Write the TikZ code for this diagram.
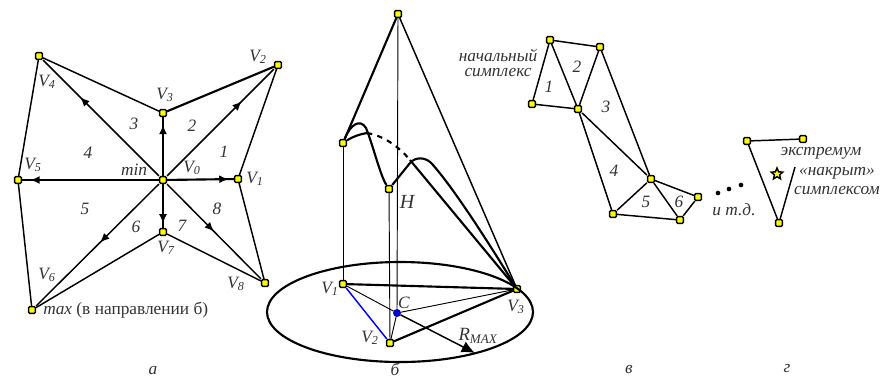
\documentclass[tikz,border=0pt]{standalone}
\usepackage{fontspec}
\setmainfont{Liberation Serif}
\usepackage{xcolor}
\usetikzlibrary{arrows.meta,decorations.markings,shapes.geometric}
\definecolor{vyellow}{RGB}{255,255,0}
\newcommand{\Vn}[1]{\textit{V\textsubscript{#1}}}
\begin{document}
\begin{tikzpicture}[x=0.75pt,y=-0.75pt,
 vert/.style={draw,fill=vyellow,rounded corners=0.8pt,line width=1.1pt,minimum size=5pt,inner sep=0pt},
 lab/.style={font=\fontsize{13}{14}\selectfont\itshape,text=black!80,inner sep=0pt},
 edge/.style={line width=1.1pt},
 fat/.style={line width=1.6pt},
 thinline/.style={line width=0.7pt},
 midarr/.style={postaction={decorate},decoration={markings,mark=at position #1 with {\arrow{Latex[length=7pt,width=6pt]}}}}]
 \useasboundingbox (0,0) rectangle (881,380);
 % a
 \node[vert] (Vc) at (163,180) {};
 \node[vert] (Va1) at (238,179) {};
 \node[vert] (Va2) at (278,65) {};
 \node[vert] (Va3) at (163,113) {};
 \node[vert] (Va4) at (39,56) {};
 \node[vert] (Va5) at (18,180) {};
 \node[vert] (Va6) at (32,310) {};
 \node[vert] (Va7) at (163,232) {};
 \node[vert] (Va8) at (265,283) {};
 \draw[fat,midarr=.92] (Vc) -- (Va1);
 \draw[edge,midarr=.7] (Vc) -- (Va2);
 \draw[fat,midarr=.87] (Vc) -- (Va3);
 \draw[edge,midarr=.68] (Vc) -- (Va4);
 \draw[fat,midarr=.94] (Vc) -- (Va5);
 \draw[edge,midarr=.48] (Vc) -- (Va6);
 \draw[fat,midarr=.9] (Vc) -- (Va7);
 \draw[edge,midarr=.5] (Vc) -- (Va8);
 \draw[edge] (Va1) -- (Va2); \draw[fat] (Va2) -- (Va3); \draw[edge] (Va3) -- (Va4); \draw[edge] (Va4) -- (Va5);
 \draw[edge] (Va5) -- (Va6); \draw[edge] (Va6) -- (Va7); \draw[edge] (Va7) -- (Va8); \draw[edge] (Va8) -- (Va1);
 \node[lab] (la1) at (255,179) {\Vn{1}};
 \node[lab] (la2) at (258,57) {\Vn{2}};
 \node[lab] (la3) at (165,95) {\Vn{3}};
 \node[lab] (la4) at (47,82) {\Vn{4}};
 \node[lab] (la5) at (33,165) {\Vn{5}};
 \node[lab] (la6) at (47,275) {\Vn{6}};
 \node[lab] (la7) at (166,248) {\Vn{7}};
 \node[lab] (la8) at (236,284) {\Vn{8}};
 \node[lab] (la0) at (192,168) {\Vn{0}};
 \node[lab] (lmin) at (134,170) {min};
 \node[lab,anchor=west] (lmax) at (43,310) {max \textup{(в направлении б)}};
 \node[lab] (n1) at (224,152) {1};
 \node[lab] (n2) at (192,126) {2};
 \node[lab] (n3) at (134,124) {3};
 \node[lab] (n4) at (88,153) {4};
 \node[lab] (n5) at (85,209) {5};
 \node[lab] (n6) at (136,227) {6};
 \node[lab] (n7) at (182,226) {7};
 \node[lab] (n8) at (217,209) {8};
 \node[lab] (capa) at (153,370) {а};
 % b
 \node[vert] (top) at (398,14) {};
 \node[vert] (ha) at (343,143) {};
 \node[vert] (hb) at (389,189) {};
 \node[vert] (Vb1) at (343,284) {};
 \node[vert] (Vb2) at (390,343) {};
 \node[vert] (Vb3) at (517,289) {};
 \node[draw=blue!70!black,fill=blue!80!black,circle,minimum size=5.5pt,inner sep=0pt] (C) at (397,313) {};
 \coordinate (Rend) at (475,353);
 \coordinate (hid1) at (367,133);
 \coordinate (hid2) at (410,160);
 \draw[fat] (400,312) ellipse (133 and 50);
 \draw[thinline] (ha) -- (Vb1); \draw[thinline] (hb) -- (Vb2); \draw[thinline] (top) -- (C);
 \draw[fat] (top) -- (ha); \draw[edge] (top) -- (Vb3);
 \draw[fat] (ha) .. controls (350,125) and (360,118) .. (366,128) .. controls (373,145) and (380,175) .. (hb);
 \draw[fat] (hb) -- (410,163) .. controls (415,157) and (426,156) .. (433,165) .. controls (455,190) and (490,245) .. (Vb3);
 \draw[fat] (ha) .. controls (352,137) and (360,134) .. (hid1);
 \draw[fat,dash pattern=on 4pt off 4pt] (hid1) .. controls (385,136) and (400,148) .. (hid2);
 \draw[fat] (hid2) -- (Vb3);
 \draw[fat] (Vb1) -- (Vb3); \draw[fat] (Vb2) -- (Vb3);
 \draw[blue,edge] (Vb1) -- (Vb2);
 \draw[thinline] (Vb1) -- (C); \draw[thinline] (C) -- (Vb2); \draw[thinline] (C) -- (Vb3);
 \draw[edge,-{Latex[length=10pt,width=9pt]}] (C) -- (Rend);
 \node[lab] (lb1) at (330,289) {\Vn{1}};
 \node[lab] (lb2) at (370,338) {\Vn{2}};
 \node[lab] (lb3) at (516,307) {\Vn{3}};
 \node[lab] (lc) at (404,303) {C};
 \node[lab,font=\fontsize{15}{16}\selectfont\itshape] (lh) at (407,202) {H};
 \node[lab,font=\fontsize{14}{15}\selectfont\itshape] (lr) at (478,336) {R\textsubscript{MAX}};
 \node[lab] (capb) at (395,369) {б};
 % v
 \node[vert] (s1) at (550,40) {};
 \node[vert] (s2) at (600,47) {};
 \node[vert] (s3) at (532,104) {};
 \node[vert] (s4) at (578,109) {};
 \node[vert] (s5) at (651,179) {};
 \node[vert] (s6) at (698,197) {};
 \node[vert] (s7) at (613,214) {};
 \node[vert] (s8) at (680,220) {};
 \draw[edge] (s3) -- (s1); \draw[edge] (s1) -- (s2); \draw[edge] (s1) -- (s4); \draw[edge] (s3) -- (s4);
 \draw[edge] (s2) -- (s4); \draw[edge] (s2) -- (s5); \draw[edge] (s4) -- (s5); \draw[edge] (s4) -- (s7);
 \draw[edge] (s5) -- (s7); \draw[edge] (s5) -- (s8); \draw[edge] (s5) -- (s6); \draw[edge] (s6) -- (s8); \draw[edge] (s7) -- (s8);
 \node[lab,align=center,font=\fontsize{13}{11.5}\selectfont\itshape] (nach) at (498,63) {начальный\\симплекс};
 \node[lab] (m1) at (549,87) {1};
 \node[lab] (m2) at (577,67) {2};
 \node[lab] (m3) at (606,107) {3};
 \node[lab] (m4) at (614,171) {4};
 \node[lab] (m5) at (646,202) {5};
 \node[lab] (m6) at (679,202) {6};
 \node[fill=black,circle,minimum size=3.5pt,inner sep=0pt] (d1) at (718,193) {};
 \node[fill=black,circle,minimum size=3.5pt,inner sep=0pt] (d2) at (729,189) {};
 \node[fill=black,circle,minimum size=3.5pt,inner sep=0pt] (d3) at (741,185) {};
 \node[lab] (itd) at (734,210) {и т.д.};
 \node[lab] (capv) at (629,369) {в};
 % g
 \node[vert] (e1) at (747,141) {};
 \node[vert] (e2) at (803,139) {};
 \node[vert] (e3) at (779,223) {};
 \coordinate (eend) at (795,167);
 \draw[edge] (e1) -- (e2); \draw[edge] (e1) -- (e3); \draw[edge] (e3) -- (eend);
 \node[draw,fill=vyellow,star,star points=5,star point ratio=2.2,minimum size=9pt,inner sep=0pt,line width=1.1pt] (ext) at (777,174) {};
 \node[lab] (t1) at (821,153) {экстремум};
 \node[lab] (t2) at (837,173) {«накрыт»};
 \node[lab] (t3) at (837,191) {симплексом};
 \node[lab] (capg) at (787,369) {г};
\end{tikzpicture}
\end{document}
